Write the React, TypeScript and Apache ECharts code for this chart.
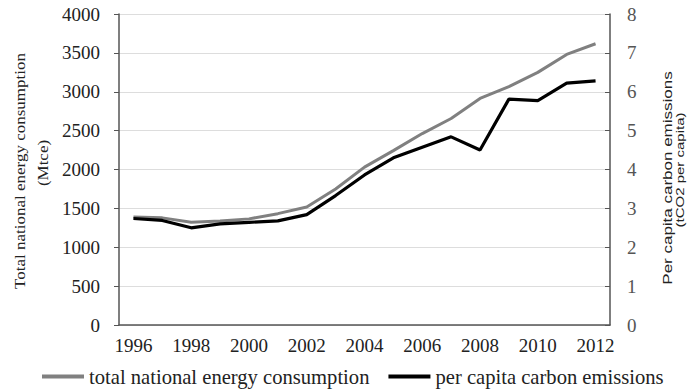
import React, { useEffect, useRef } from "react";
import * as echarts from "echarts";

const years = ["1996","1997","1998","1999","2000","2001","2002","2003","2004","2005","2006","2007","2008","2009","2010","2011","2012"];
const energyConsumption = [1389, 1378, 1322, 1338, 1365, 1432, 1518, 1750, 2030, 2243, 2462, 2656, 2914, 3066, 3249, 3480, 3617];
const perCapitaEmissions = [2.74, 2.69, 2.5, 2.6, 2.64, 2.68, 2.84, 3.33, 3.86, 4.3, 4.57, 4.84, 4.5, 5.81, 5.77, 6.22, 6.28];
const seriesNames = ["total national energy consumption", "per capita carbon emissions"];

const SERIF = "Liberation Serif";
const SANS = "Liberation Sans";

export default function App() {
  const ref = useRef<HTMLDivElement>(null);
  useEffect(() => {
    if (!ref.current) return;
    const chart = echarts.init(ref.current, null, { renderer: "svg" });
    chart.setOption({
      animation: false,
      backgroundColor: "#ffffff",
      grid: { left: 119, right: 77, top: 14, bottom: 64, containLabel: false },
      legend: {
        left: 42,
        top: 366,
        padding: 0,
        icon: "rect",
        itemWidth: 42,
        itemHeight: 4,
        itemGap: 19,
        textStyle: { fontFamily: SERIF, fontSize: 20.6, color: "#222" },
        data: seriesNames,
      },
      xAxis: {
        type: "category",
        data: years,
        boundaryGap: true,
        axisLine: { lineStyle: { color: "#555", width: 1.5 } },
        axisTick: { interval: 0, inside: true, length: 5, lineStyle: { color: "#555" } },
        axisLabel: { interval: 1, margin: 11, fontFamily: SERIF, fontSize: 19, color: "#222" },
        splitLine: { show: false },
      },
      yAxis: [
        {
          type: "value",
          min: 0,
          max: 4000,
          interval: 500,
          axisLine: { show: true, lineStyle: { color: "#555", width: 1.5 } },
          axisTick: { show: true, length: 5, lineStyle: { color: "#555" } },
          axisLabel: { margin: 19, fontFamily: SERIF, fontSize: 19, color: "#222", formatter: (v: number) => String(v) },
          splitLine: { show: true, lineStyle: { color: "#dddddd", width: 1 } },
        },
        {
          type: "value",
          min: 0,
          max: 8,
          interval: 1,
          position: "right",
          axisLine: { show: true, lineStyle: { color: "#555", width: 1.5 } },
          axisTick: { show: true, inside: true, length: 5, lineStyle: { color: "#555" } },
          axisLabel: { margin: 17, fontFamily: SERIF, fontSize: 19, color: "#555", formatter: (v: number) => String(v) },
          splitLine: { show: false },
        },
      ],
      series: [
        {
          name: seriesNames[0],
          type: "line",
          yAxisIndex: 0,
          data: energyConsumption,
          symbol: "none",
          lineStyle: { color: "#808080", width: 3 },
          itemStyle: { color: "#808080" },
          z: 2,
        },
        {
          name: seriesNames[1],
          type: "line",
          yAxisIndex: 1,
          data: perCapitaEmissions,
          symbol: "none",
          lineStyle: { color: "#000000", width: 3.2 },
          itemStyle: { color: "#000000" },
          z: 3,
        },
      ],
      graphic: [
        {
          type: "text",
          x: 20,
          y: 171,
          rotation: Math.PI / 2,
          scaleY: 0.85,
          style: { text: "Total national energy consumption", font: `17px ${SERIF}`, fill: "#222", textAlign: "center", textVerticalAlign: "middle" },
        },
        {
          type: "text",
          x: 43,
          y: 163,
          rotation: Math.PI / 2,
          scaleY: 0.85,
          style: { text: "(Mtce)", font: `17px ${SERIF}`, fill: "#222", textAlign: "center", textVerticalAlign: "middle" },
        },
        {
          type: "text",
          x: 667,
          y: 178,
          rotation: Math.PI / 2,
          scaleY: 0.75,
          style: { text: "Per capita carbon emissions", font: `17px ${SANS}`, fill: "#222", textAlign: "center", textVerticalAlign: "middle" },
        },
        {
          type: "text",
          x: 680,
          y: 170,
          rotation: Math.PI / 2,
          scaleY: 0.78,
          style: { text: "(tCO2 per capita)", font: `15px ${SANS}`, fill: "#222", textAlign: "center", textVerticalAlign: "middle" },
        },
      ],
    });
    return () => chart.dispose();
  }, []);
  return <div ref={ref} style={{ width: 687, height: 389, position: "absolute", left: 0, top: 0 }} />;
}
